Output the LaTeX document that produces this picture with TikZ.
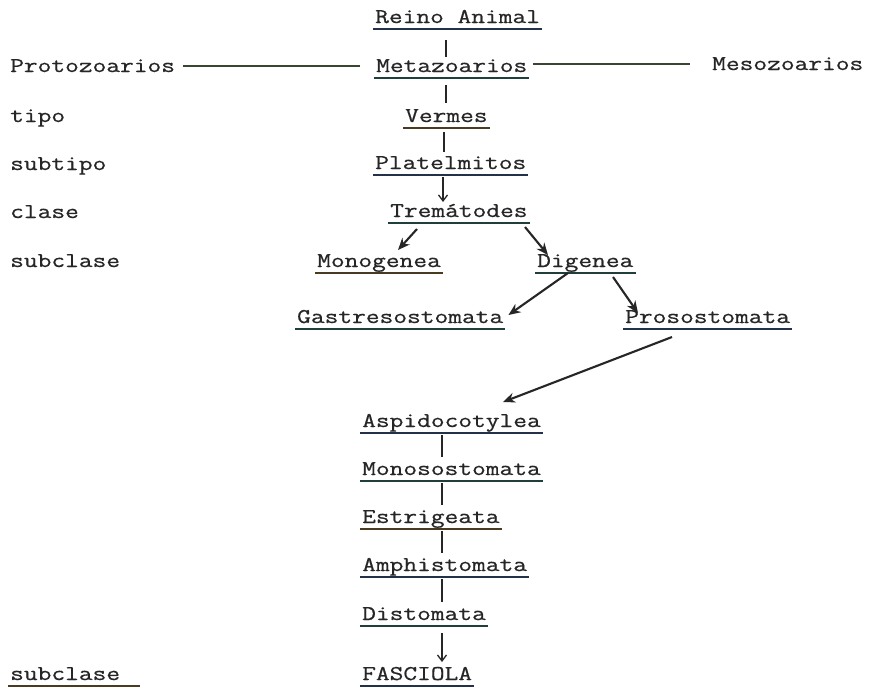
\documentclass[tikz,border=0pt]{standalone}
\usepackage{fontspec}
\usetikzlibrary{calc,arrows.meta}
\newfontfamily\twfont[FakeStretch=1.27,FakeBold=0.6]{Latin Modern Mono}
\definecolor{ink}{HTML}{262626}
\definecolor{ulA}{HTML}{23324A}
\definecolor{ulB}{HTML}{1F3F3A}
\definecolor{ulC}{HTML}{4A3A20}
\definecolor{hline}{HTML}{3A4530}
\tikzset{
  lbl/.style={anchor=base west,inner sep=0pt,text=ink,font=\twfont\fontsize{21}{25}\selectfont},
  uline/.style={line width=1.5pt},
  vline/.style={draw=ink,line width=1.3pt},
  hconn/.style={draw=hline,line width=2.6pt},
  darr/.style={draw=ink,line width=2.1pt,-{Stealth[length=12pt,width=10pt]}},
  varr/.style={draw=ink,line width=1.3pt,-{Straight Barb[length=6pt,width=9pt]}}
}
\begin{document}
\begin{tikzpicture}[x=1pt,y=-1pt]
\useasboundingbox (0,0) rectangle (874,688);
\fill[white] (0,0) rectangle (874,688);
% left column
\node[lbl] (proto) at (10,72) {Protozoarios};
\node[lbl] (tipo) at (10,122) {tipo};
\node[lbl] (subtipo) at (10,170) {subtipo};
\node[lbl] (clase) at (10,218) {clase};
\node[lbl] (subcA) at (10,267) {subclase};
\node[lbl] (subcB) at (10,680) {subclase};
\node[lbl] (meso) at (712,70) {Mesozoarios};
% central column
\node[lbl] (reino) at (375,23) {Reino Animal};
\node[lbl] (meta) at (376,72) {Metazoarios};
\node[lbl] (vermes) at (405,122) {Vermes};
\node[lbl] (plat) at (375,169) {Platelmitos};
\node[lbl] (trem) at (390,217) {Tremátodes};
\node[lbl] (mono) at (317,267) {Monogenea};
\node[lbl] (dig) at (537,267) {Digenea};
\node[lbl] (gast) at (297,323) {Gastresostomata};
\node[lbl] (pros) at (625,323) {Prosostomata};
\node[lbl] (asp) at (362,427) {Aspidocotylea};
\node[lbl] (monos) at (362,475) {Monosostomata};
\node[lbl] (estr) at (362,523) {Estrigeata};
\node[lbl] (amph) at (362,571) {Amphistomata};
\node[lbl] (dist) at (362,620) {Distomata};
\node[lbl] (fasc) at (362,680) {FASCIOLA};
% underlines
\foreach \n/\c in {reino/ulA,meta/ulB,vermes/ulC,plat/ulA,trem/ulB,mono/ulC,dig/ulB,gast/ulB,pros/ulA,asp/ulA,monos/ulB,estr/ulC,amph/ulA,dist/ulB,fasc/ulA}
  \draw[uline,draw=\c] ($(\n.base west)+(-2,6)$) -- ($(\n.base east)+(2,6)$);
\draw[uline,draw=ulC] ($(subcB.base west)+(-2,6)$) -- ($(subcB.base east)+(20,6)$);
% horizontal connectors
\draw[hconn] ($(proto.base east)+(8,-6)$) -- ($(meta.base west)+(-16,-6)$);
\draw[hconn] ($(meta.base east)+(6,-8)$) -- ($(meso.base west)+(-22,-6)$);
% vertical connectors
\coordinate (spine) at (446,0);
\draw[vline] ($(reino.base -| spine)+(0,17)$) -- ($(meta.base -| spine)+(0,-15)$);
\draw[vline] ($(meta.base -| spine)+(0,13)$) -- ($(vermes.base -| spine)+(0,-19)$);
\draw[vline] ($(vermes.base -| spine)+(-2,10)$) -- ($(plat.base -| spine)+(-2,-17)$);
\draw[varr] ($(plat.base -| spine)+(-3,8)$) -- ($(trem.base -| spine)+(-3,-15)$);
\draw[vline] ($(asp.base west)+(80,8)$) -- ($(monos.base west)+(80,-18)$);
\draw[vline] ($(monos.base west)+(80,8)$) -- ($(estr.base west)+(80,-18)$);
\draw[vline] ($(estr.base west)+(80,8)$) -- ($(amph.base west)+(80,-18)$);
\draw[vline] ($(amph.base west)+(80,8)$) -- ($(dist.base west)+(80,-18)$);
\draw[varr] ($(dist.base west)+(80,13)$) -- ($(fasc.base west)+(80,-18)$);
% diagonal arrows
\draw[darr] ($(trem.base west)+(27,12)$) -- ($(mono.base west)+(81,-17)$);
\draw[darr] ($(trem.base west)+(135,10)$) -- ($(dig.base west)+(11,-12)$);
\draw[darr] ($(dig.base west)+(31,6)$) -- ($(gast.base east)+(5,-8)$);
\draw[darr] ($(dig.base west)+(76,10)$) -- ($(pros.base west)+(13,-10)$);
\draw[darr] ($(pros.base west)+(47,14)$) -- ($(asp.base west)+(141,-25)$);
\end{tikzpicture}
\end{document}
